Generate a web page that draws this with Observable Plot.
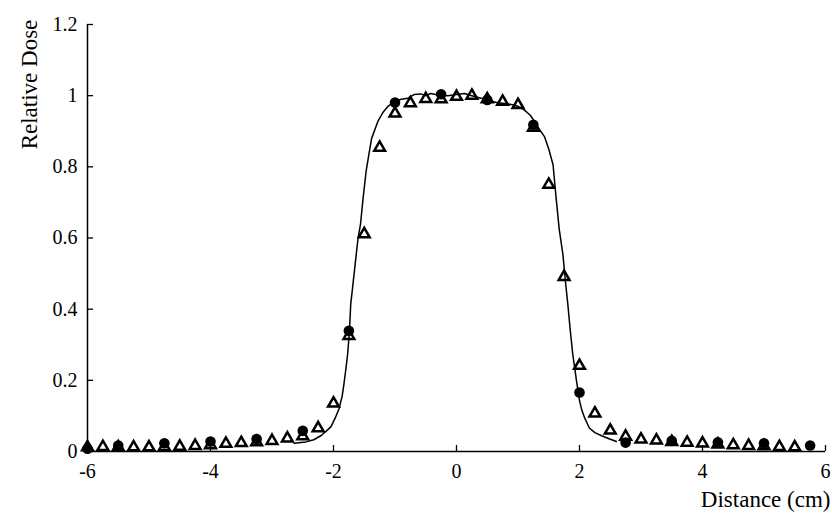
<!DOCTYPE html>
<html><head><meta charset="utf-8">
<script src="https://cdn.jsdelivr.net/npm/d3@7"></script>
<script src="https://cdn.jsdelivr.net/npm/@observablehq/plot@0.6"></script>
<style>body{margin:0;background:#fff}</style>
</head><body><div id="chart"></div>
<script>
// Open triangles (every 0.25 cm)
const triX = [-6,-5.75,-5.5,-5.25,-5,-4.75,-4.5,-4.25,-4,-3.75,-3.5,-3.25,-3,-2.75,-2.5,-2.25,-2,-1.75,-1.5,-1.25,-1,-0.75,-0.5,-0.25,0,0.25,0.5,0.75,1,1.25,1.5,1.75,2,2.25,2.5,2.75,3,3.25,3.5,3.75,4,4.25,4.5,4.75,5,5.25,5.5];
const triY = [0.012,0.013,0.012,0.012,0.012,0.013,0.014,0.016,0.018,0.022,0.024,0.026,0.03,0.037,0.043,0.066,0.135,0.325,0.611,0.854,0.95,0.979,0.991,0.99,0.997,1.0,0.99,0.983,0.974,0.91,0.75,0.491,0.241,0.107,0.059,0.042,0.034,0.031,0.027,0.025,0.023,0.02,0.018,0.016,0.015,0.013,0.012];
// Filled circles (every 0.75 cm)
const circX = [-6,-5.5,-4.75,-4,-3.25,-2.5,-1.75,-1,-0.25,0.5,1.25,2,2.75,3.5,4.25,5,5.75];
const circY = [0.008,0.017,0.023,0.028,0.035,0.058,0.339,0.981,1.004,0.988,0.918,0.166,0.025,0.03,0.026,0.023,0.017];
// Solid curve
const lineX = [-2.64,-2.45,-2.32,-2.2,-2.1,-2.04,-1.97,-1.91,-1.86,-1.83,-1.8,-1.77,-1.74,-1.72,-1.69,-1.66,-1.62,-1.6,-1.56,-1.52,-1.47,-1.42,-1.38,-1.28,-1.2,-1.12,-1.01,-0.9,-0.79,-0.69,-0.58,-0.5,-0.42,-0.3,-0.14,0,0.13,0.25,0.4,0.55,0.67,0.78,0.89,1.0,1.1,1.2,1.27,1.35,1.43,1.5,1.57,1.62,1.67,1.73,1.77,1.81,1.85,1.89,1.95,2.0,2.04,2.08,2.16,2.25,2.35,2.48,2.6];
const lineY = [0.023,0.027,0.033,0.045,0.06,0.07,0.095,0.12,0.155,0.19,0.23,0.274,0.34,0.414,0.46,0.507,0.57,0.6,0.64,0.71,0.787,0.84,0.88,0.927,0.952,0.969,0.983,0.99,0.993,1.003,1.005,1.0,1.006,1.002,1.0,1.003,1.006,1.0,0.993,0.985,0.98,0.978,0.975,0.97,0.96,0.945,0.927,0.905,0.885,0.85,0.806,0.712,0.625,0.554,0.48,0.414,0.34,0.274,0.2,0.143,0.115,0.096,0.066,0.053,0.045,0.036,0.028];
const xTicks = [-6,-4,-2,0,2,4,6];
const yTicks = [0,0.2,0.4,0.6,0.8,1,1.2];
const yTickLabels = ["0","0.2","0.4","0.6","0.8","1","1.2"];
const xLabel = "Distance (cm)";
const yLabel = "Relative Dose";

const tri = triX.map((x,i)=>({x, y: triY[i]}));
const circ = circX.map((x,i)=>({x, y: circY[i]}));
const line = lineX.map((x,i)=>({x, y: lineY[i]}));

const chart = Plot.plot({
  width: 832, height: 519,
  marginLeft: 87, marginRight: 7, marginTop: 24, marginBottom: 68,
  style: {fontFamily: "Liberation Serif", fontSize: "20px", color: "#000", background: "#fff"},
  x: {domain: [-6, 6]},
  y: {domain: [0, 1.2]},
  marks: [
    Plot.ruleX([-6], {y1: 0, y2: 1.2, stroke: "#000", strokeWidth: 1.5}),
    Plot.ruleY([0], {x1: -6, x2: 6, stroke: "#000", strokeWidth: 1.5}),
    Plot.axisX({ticks: xTicks, tickSize: -6, tickPadding: 18, tickFormat: d => String(d), label: null, stroke: "#000", strokeWidth: 1.3}),
    Plot.axisY({ticks: yTicks, tickSize: -6, tickPadding: 16, tickFormat: (d,i) => yTickLabels[i], label: null, stroke: "#000", strokeWidth: 1.3}),
    Plot.line(line, {x: "x", y: "y", stroke: "#000", strokeWidth: 1.5}),
    Plot.dot(circ, {x: "x", y: "y", r: 5.3, fill: "#000", stroke: "none"}),
    Plot.dot(tri, {x: "x", y: "y", symbol: "triangle", r: 4.0, fill: "none", stroke: "#000", strokeWidth: 2.5}),
    Plot.text([yLabel], {frameAnchor: "top-left", text: d => d, rotate: -90, textAnchor: "middle", dx: -67, dy: 60, fontSize: 23}),
    Plot.text([xLabel], {frameAnchor: "bottom-right", text: d => d, textAnchor: "end", dx: 5, dy: 55, fontSize: 23})
  ]
});
document.getElementById("chart").appendChild(chart);
</script>
</body></html>
